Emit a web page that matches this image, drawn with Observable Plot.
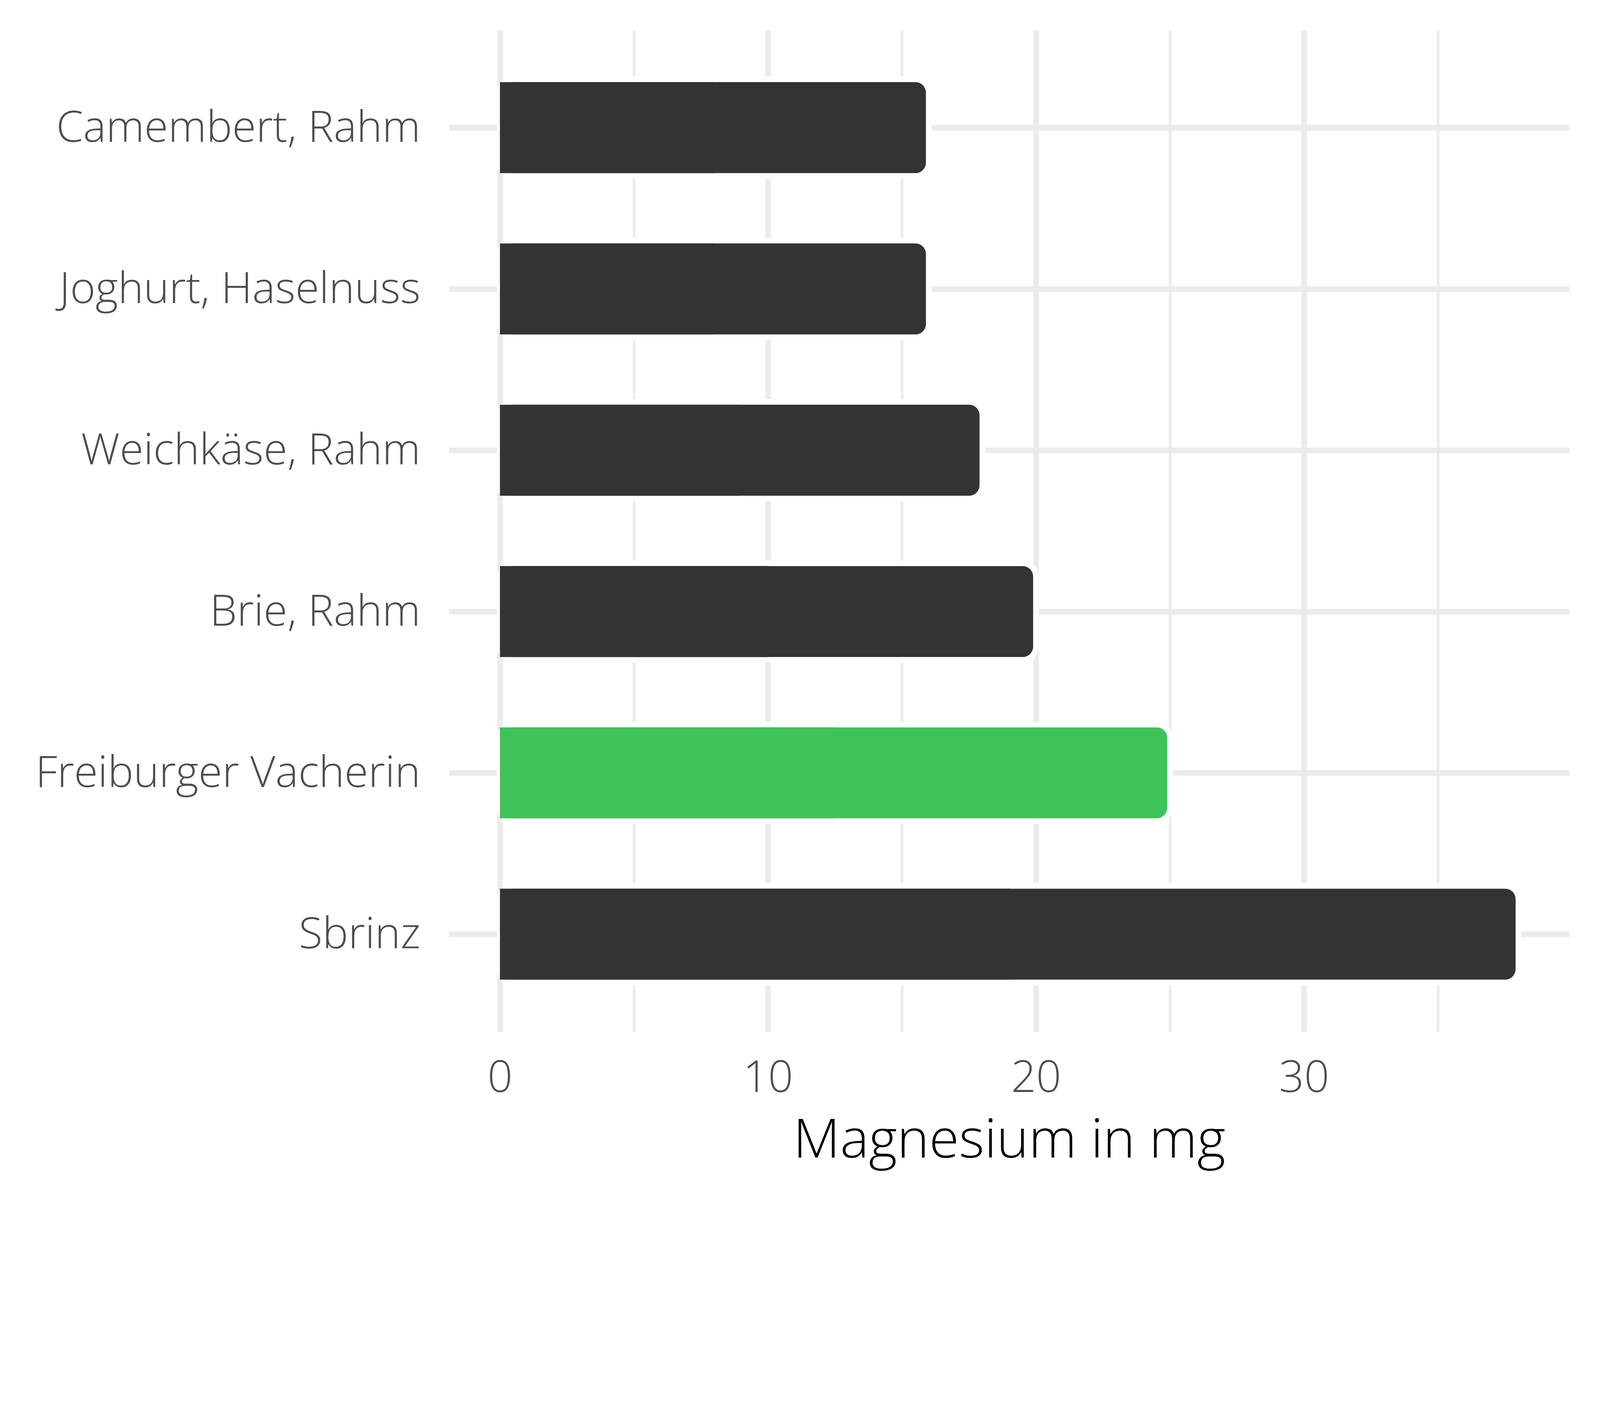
<!DOCTYPE html>
<html><head><meta charset="utf-8">
<script src="https://cdn.jsdelivr.net/npm/d3@7"></script>
<script src="https://cdn.jsdelivr.net/npm/@observablehq/plot@0.6"></script>
<style>html,body{margin:0;padding:0;background:#fff}</style>
</head><body><div id="chart"></div>
<script>
const foods = ["Camembert, Rahm", "Joghurt, Haselnuss", "Weichkäse, Rahm", "Brie, Rahm", "Freiburger Vacherin", "Sbrinz"];
const magnesium = [16, 16, 18, 20, 25, 38];
const highlight = "Freiburger Vacherin";
const xTicks = [0, 10, 20, 30];
const xMinorTicks = [5, 15, 25, 35];
const xLabel = "Magnesium in mg";

const data = foods.map((f, i) => ({food: f, value: magnesium[i]}));
const dark = "#333333", green = "#3EC25A", grid = "#EBEBEB";
const font = "Open Sans";

const chart = Plot.plot({
  width: 4800,
  height: 3600,
  marginLeft: 1347,
  marginRight: 92,
  marginTop: 91,
  marginBottom: 504,
  style: {fontFamily: font, background: "#fff", fontWeight: 300},
  x: {domain: [-1.9, 39.9]},
  y: {domain: foods, paddingInner: 0.4, paddingOuter: 0.3},
  marks: [
    Plot.gridX({ticks: xMinorTicks, stroke: grid, strokeOpacity: 1, strokeWidth: 8}),
    Plot.gridX({ticks: xTicks, stroke: grid, strokeOpacity: 1, strokeWidth: 17}),
    Plot.gridY({stroke: grid, strokeOpacity: 1, strokeWidth: 17}),
    Plot.barX(data, {y: "food", x1: 0, x2: "value", rx: 40,
      fill: d => d.food === highlight ? green : dark, stroke: "white", strokeWidth: 17}),
    Plot.barX(data, {y: "food", x1: 0, x2: d => d.value / 2, insetTop: 8.5, insetBottom: 8.5,
      fill: d => d.food === highlight ? green : dark}),
    Plot.axisX({ticks: xTicks, tickSize: 0, tickPadding: 86, fontSize: 132, fill: "#4D4D4D", label: null, fontFamily: font, fontWeight: 300}),
    Plot.axisY({tickSize: 0, tickPadding: 86, fontSize: 130, fill: "#4D4D4D", label: null, fontFamily: font, fontWeight: 300}),
    Plot.text([xLabel], {frameAnchor: "bottom", lineAnchor: "bottom", dy: 377, fontSize: 163, fill: "black", fontFamily: font, fontWeight: 300})
  ],
  color: {type: "identity"}
});
document.getElementById("chart").append(chart);
</script>
</body></html>
